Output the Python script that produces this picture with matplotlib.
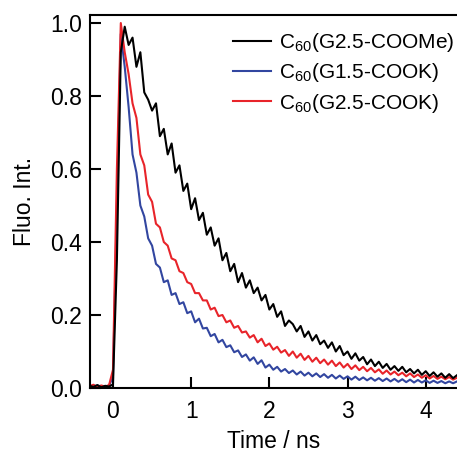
import numpy as np
import matplotlib
matplotlib.use("Agg")
import matplotlib.pyplot as plt

plt.rcParams['font.family'] = ['Liberation Sans', 'DejaVu Sans']
plt.rcParams['mathtext.fontset'] = 'custom'
plt.rcParams['mathtext.rm'] = 'Liberation Sans'
plt.rcParams['mathtext.default'] = 'regular'

# time grid of the decay traces (ns), 0.05 ns steps
time = np.round(np.arange(-0.30, 4.401, 0.05), 2)

# C60(G2.5-COOMe)
fl_coome = [0.006, 0.003, 0.008, 0.002, 0.006, 0.004, 0.010, 0.35, 0.92, 0.99,
            0.94, 0.96, 0.88, 0.92, 0.81, 0.79, 0.76, 0.78, 0.69, 0.71,
            0.64, 0.67, 0.59, 0.61, 0.54, 0.56, 0.49, 0.52, 0.46, 0.48,
            0.42, 0.44, 0.39, 0.41, 0.35, 0.37, 0.32, 0.34, 0.29, 0.315,
            0.275, 0.295, 0.26, 0.275, 0.24, 0.255, 0.215, 0.23, 0.195, 0.21,
            0.17, 0.185, 0.175, 0.155, 0.17, 0.14, 0.155, 0.13, 0.145, 0.12,
            0.13, 0.11, 0.125, 0.10, 0.115, 0.09, 0.10, 0.08, 0.095, 0.075,
            0.085, 0.065, 0.078, 0.06, 0.072, 0.055, 0.066, 0.05, 0.06, 0.047,
            0.058, 0.043, 0.052, 0.04, 0.05, 0.036, 0.046, 0.033, 0.043, 0.031,
            0.04, 0.028, 0.038, 0.027, 0.035]

# C60(G1.5-COOK)
fl_g15 = [0.008, 0.003, 0.007, 0.004, 0.002, 0.007, 0.03, 0.50, 0.97, 0.88,
          0.77, 0.64, 0.59, 0.50, 0.47, 0.41, 0.39, 0.34, 0.33, 0.29,
          0.295, 0.255, 0.26, 0.23, 0.235, 0.205, 0.21, 0.18, 0.19, 0.163,
          0.165, 0.142, 0.148, 0.125, 0.132, 0.112, 0.117, 0.098, 0.103, 0.085,
          0.092, 0.075, 0.084, 0.066, 0.076, 0.056, 0.064, 0.05, 0.058, 0.045,
          0.052, 0.041, 0.048, 0.037, 0.045, 0.034, 0.042, 0.032, 0.04, 0.03,
          0.038, 0.028, 0.036, 0.026, 0.034, 0.025, 0.032, 0.023, 0.031, 0.022,
          0.029, 0.021, 0.028, 0.02, 0.027, 0.019, 0.026, 0.018, 0.025, 0.017,
          0.024, 0.016, 0.023, 0.015, 0.022, 0.015, 0.021, 0.014, 0.02, 0.014,
          0.019, 0.013, 0.018, 0.013, 0.018]

# C60(G2.5-COOK)
fl_g25 = [0.005, 0.009, 0.003, 0.007, 0.004, 0.008, 0.05, 0.60, 1.00, 0.92,
          0.86, 0.78, 0.74, 0.64, 0.61, 0.53, 0.51, 0.45, 0.44, 0.40,
          0.39, 0.355, 0.35, 0.32, 0.315, 0.29, 0.285, 0.26, 0.26, 0.24,
          0.24, 0.215, 0.22, 0.197, 0.2, 0.18, 0.185, 0.165, 0.17, 0.152,
          0.155, 0.138, 0.145, 0.125, 0.135, 0.115, 0.122, 0.105, 0.113, 0.097,
          0.104, 0.088, 0.1, 0.083, 0.094, 0.077, 0.088, 0.072, 0.083, 0.068,
          0.078, 0.064, 0.075, 0.06, 0.07, 0.056, 0.066, 0.052, 0.062, 0.049,
          0.058, 0.046, 0.055, 0.043, 0.051, 0.039, 0.048, 0.037, 0.045, 0.035,
          0.042, 0.032, 0.04, 0.03, 0.037, 0.028, 0.035, 0.026, 0.033, 0.025,
          0.031, 0.024, 0.03, 0.023, 0.028]

labels = [r'C$_{60}$(G2.5-COOMe)', r'C$_{60}$(G1.5-COOK)', r'C$_{60}$(G2.5-COOK)']
colors = ['black', '#3246a0', '#e8242a']

fig = plt.figure(figsize=(4.57, 4.54), dpi=100)
ax = fig.add_axes([90/457, 1-388/454, 1-90/457, (388-15)/454])

lb, = ax.plot(time, fl_g15, color=colors[1], lw=1.5, label=labels[1])
lr, = ax.plot(time, fl_g25, color=colors[2], lw=1.5, label=labels[2])
lk, = ax.plot(time, fl_coome, color=colors[0], lw=1.5, label=labels[0])

ax.set_xlim(-0.294, 4.40)
ax.set_ylim(0.0, 1.022)
ax.set_xticks([0, 1, 2, 3, 4])
ax.set_yticks([0.0, 0.2, 0.4, 0.6, 0.8, 1.0])
ax.set_yticklabels(['%.1f' % v for v in [0.0, 0.2, 0.4, 0.6, 0.8, 1.0]])
ax.tick_params(direction='in', length=8, width=1.5, labelsize=16.5, pad=6)
ax.tick_params(axis='x', pad=9)
ax.spines['right'].set_visible(False)
for s in ['left', 'top', 'bottom']:
    ax.spines[s].set_linewidth(1.5)

ax.set_xlabel('Time / ns', fontsize=16.5, labelpad=5)
ax.set_ylabel('Fluo. Int.', fontsize=16.5, labelpad=10)

ax.legend(handles=[lk, lb, lr], frameon=False, fontsize=15,
          loc='upper left', bbox_to_anchor=(233/457, 1-31/454),
          bbox_transform=fig.transFigure, borderpad=0, borderaxespad=0,
          handlelength=1.8, handletextpad=0.4, labelspacing=0.35)

fig.savefig('out.png', dpi=100)
